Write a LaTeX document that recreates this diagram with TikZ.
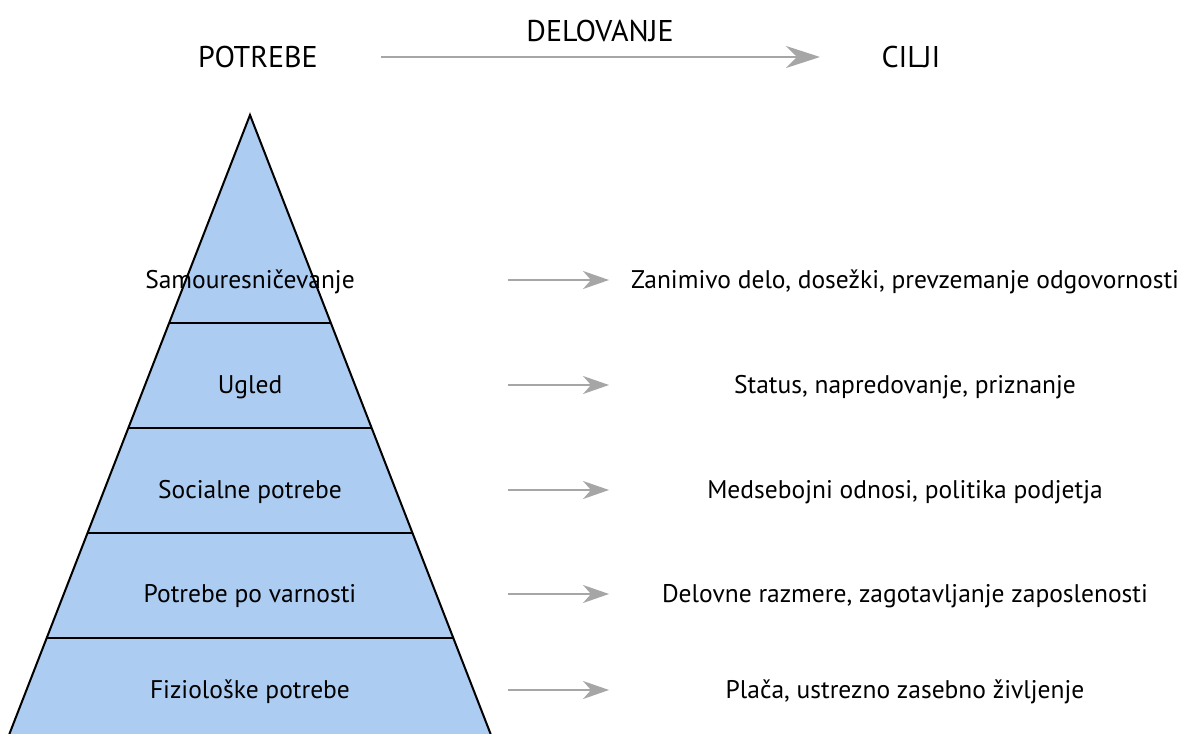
\documentclass[tikz,border=0pt]{standalone}
\usepackage{fontspec}
\setmainfont{PT Sans}
\usetikzlibrary{arrows.meta}
\definecolor{pyrfill}{RGB}{172,204,242}
\definecolor{arrgray}{RGB}{166,166,166}
\tikzset{
  lbl/.style={anchor=base, inner sep=0pt, font=\fontsize{25.5}{30}\selectfont},
  head/.style={anchor=base, inner sep=0pt, font=\fontsize{30}{34}\selectfont},
  rowarrow/.style={draw=arrgray, line width=1.6pt, -{Stealth[length=26pt, width=18pt, inset=8pt]}},
  mainarrow/.style={draw=arrgray, line width=2.2pt, -{Stealth[length=34pt, width=22pt, inset=11pt]}},
  divider/.style={draw=black, line width=2pt},
}
\begin{document}
\begin{tikzpicture}[x=1pt,y=-1pt]
\useasboundingbox (0,0) rectangle (1185,733);
\begin{scope}
\clip (0,0) rectangle (1185,733);
% pyramid
\fill[pyrfill] (250,115) -- (-5,771) -- (505,771) -- cycle;
\draw[line width=2pt, line join=miter] (-5,771) -- (250,115) -- (505,771);
\foreach \yy in {323,428,533,638}{
  \pgfmathsetmacro{\hw}{0.3883*(\yy-115)}
  \draw[divider] ({250-\hw},\yy) -- ({250+\hw},\yy);
}
\end{scope}
% header
\node[head] (potrebe) at (258,68) {POTREBE};
\node[head] (cilji) at (911,68) {CILJI};
\node[head] (delovanje) at (600,42) {DELOVANJE};
\coordinate (hs) at (381,57);
\coordinate (he) at (820,57);
\draw[mainarrow] (hs) -- (he);
% rows
\foreach \n/\yb/\left/\right in {
  1/288/Samouresničevanje/{Zanimivo delo, dosežki, prevzemanje odgovornosti},
  2/393/Ugled/{Status, napredovanje, priznanje},
  3/498/Socialne potrebe/{Medsebojni odnosi, politika podjetja},
  4/602/Potrebe po varnosti/{Delovne razmere, zagotavljanje zaposlenosti},
  5/698/Fiziološke potrebe/{Plača, ustrezno zasebno življenje}}{
  \node[lbl] (l\n) at (250,\yb) {\left};
  \node[lbl] (r\n) at (905,\yb) {\right};
  \coordinate (as\n) at (508,\yb-8);
  \coordinate (ae\n) at (609,\yb-8);
  \draw[rowarrow] (as\n) -- (ae\n);
}
\end{tikzpicture}
\end{document}
